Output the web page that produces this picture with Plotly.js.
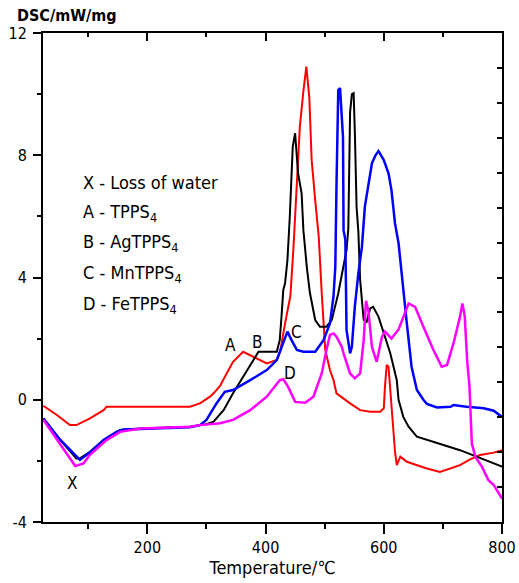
<!DOCTYPE html>
<html>
<head>
<meta charset="utf-8">
<script src="https://cdn.plot.ly/plotly-3.0.1.min.js"></script>
<style>html,body{margin:0;padding:0;background:#fff;}#chart{width:519px;height:583px;}</style>
</head>
<body>
<div id="chart"></div>
<script>
// ---- Data ----
// A - TPPS4 (red)
const tempA = [24, 47, 69, 80, 103, 126, 131, 272, 289, 306, 312, 323, 328, 345, 362, 379, 402, 419, 425, 433, 442, 447, 458, 464, 469, 474, 478, 484, 490, 495, 501, 509, 515, 520, 534, 543, 560, 577, 594, 600, 602, 605, 608, 611, 616, 619, 622, 628, 639, 656, 673, 695, 707, 729, 746, 763, 786, 800];
const dscA  = [-0.2, -0.5, -0.83, -0.83, -0.61, -0.34, -0.23, -0.23, -0.12, 0.1, 0.21, 0.45, 0.64, 1.24, 1.57, 1.41, 1.19, 1.3, 1.6, 2.5, 3.4, 4.9, 8.93, 10.1, 10.9, 9.9, 7.84, 6.53, 5.33, 3.5, 1.63, 0.97, 0.64, 0.21, 0.0, -0.12, -0.34, -0.39, -0.39, -0.28, 0.43, 1.14, 1.08, 0.32, -1.2, -1.7, -2.14, -1.86, -2.03, -2.14, -2.25, -2.36, -2.28, -2.14, -1.95, -1.81, -1.73, -1.65];
// B - AgTPPS4 (black)
const tempB = [24, 52, 80, 86, 103, 126, 148, 154, 188, 272, 289, 300, 312, 329, 345, 362, 379, 388, 419, 424, 427, 430, 433, 437, 441, 444, 446, 450, 455, 461, 464, 470, 475, 484, 492, 503, 512, 523, 534, 537, 540, 541, 543, 546, 549, 551, 554, 557, 560, 566, 571, 577, 582, 591, 600, 611, 622, 625, 633, 642, 656, 673, 701, 729, 757, 786, 800];
const dscB  = [-0.61, -1.3, -1.92, -1.92, -1.7, -1.32, -1.05, -0.99, -0.94, -0.88, -0.83, -0.8, -0.72, -0.34, 0.21, 0.75, 1.3, 1.57, 1.57, 1.95, 2.72, 3.59, 3.81, 4.57, 5.99, 7.19, 8.28, 8.72, 7.41, 6.75, 5.55, 4.3, 3.5, 2.61, 2.39, 2.39, 2.61, 3.48, 4.57, 4.9, 5.6, 7.2, 9.4, 10.0, 10.03, 8.8, 6.3, 5.5, 3.92, 2.61, 2.55, 2.99, 3.04, 2.72, 2.17, 1.52, 0.64, 0.0, -0.56, -0.88, -1.21, -1.32, -1.48, -1.65, -1.87, -2.08, -2.19];
// C - MnTPPS4 (blue)
const tempC = [24, 52, 86, 103, 126, 148, 160, 188, 272, 289, 300, 317, 331, 345, 374, 402, 419, 430, 437, 444, 453, 464, 484, 498, 509, 515, 518, 520, 523, 526, 529, 531, 532, 535, 537, 543, 546, 551, 557, 563, 568, 574, 580, 586, 591, 600, 608, 613, 619, 625, 630, 639, 647, 656, 667, 673, 690, 713, 718, 740, 769, 786, 800];
const dscC  = [-0.61, -1.3, -1.97, -1.72, -1.32, -1.05, -0.97, -0.96, -0.9, -0.83, -0.66, -0.12, 0.26, 0.32, 0.64, 0.97, 1.3, 1.85, 2.23, 1.95, 1.63, 1.57, 1.57, 1.95, 2.5, 3.4, 4.35, 7.0, 10.13, 10.2, 9.26, 8.6, 5.55, 5.23, 2.28, 1.52, 1.73, 3.04, 4.14, 5.0, 6.32, 7.08, 7.74, 8.0, 8.14, 7.84, 7.41, 6.86, 5.77, 5.12, 4.14, 2.5, 1.08, 0.32, 0.0, -0.14, -0.25, -0.23, -0.17, -0.23, -0.28, -0.36, -0.56];
// D - FeTPPS4 (magenta)
const tempD = [24, 50, 78, 92, 103, 131, 154, 188, 272, 289, 323, 345, 374, 402, 424, 430, 438, 450, 467, 481, 495, 503, 509, 515, 520, 529, 532, 543, 551, 560, 566, 570, 574, 580, 588, 597, 602, 613, 625, 642, 653, 667, 684, 698, 707, 718, 729, 733, 737, 741, 745, 749, 755, 766, 777, 786, 800];
const dscD  = [-0.65, -1.4, -2.17, -2.08, -1.8, -1.32, -1.05, -0.94, -0.88, -0.83, -0.77, -0.66, -0.34, 0.1, 0.64, 0.67, 0.43, -0.07, -0.1, 0.1, 0.86, 1.63, 2.12, 2.17, 2.06, 1.73, 1.52, 0.86, 0.7, 0.86, 1.95, 3.24, 2.9, 1.73, 1.24, 2.06, 2.23, 2.0, 2.3, 3.15, 3.04, 2.39, 1.63, 1.08, 1.14, 1.85, 2.72, 3.15, 2.72, 1.3, 0.43, -1.43, -1.87, -2.19, -2.63, -2.79, -3.23];

// Axis ticks
const xTickVals = [200, 400, 600, 800];
const xTickText = ["200", "400", "600", "800"];
const xMinorVals = [100, 300, 500, 700];
const yTickVals = [-4, 0, 4, 8, 12];
const yTickText = ["-4", "0", "4", "8", "12"];
const yMinorVals = [-2, 2, 6, 10];

// Legend text lines and curve labels
const legendLines = ["X - Loss of water", "A - TPPS<sub>4</sub>", "B - AgTPPS<sub>4</sub>", "C - MnTPPS<sub>4</sub>", "D - FeTPPS<sub>4</sub>"];
const curveLabels = ["A", "B", "C", "D", "X"];
const curveLabelT = [340, 386, 453, 442, 72];
const curveLabelV = [1.79, 1.9, 2.22, 0.86, -2.74];

const FONT = '"Liberation Sans Narrow", "Arial Narrow", "DejaVu Sans Condensed", Arial, sans-serif';

const lw = 2;
const traces = [
  {x: tempA, y: dscA, mode: 'lines', line: {color: '#ff0000', width: lw}, name: 'A'},
  {x: tempB, y: dscB, mode: 'lines', line: {color: '#000000', width: lw}, name: 'B'},
  {x: tempC, y: dscC, mode: 'lines', line: {color: '#0000ff', width: lw + 0.5}, name: 'C'},
  {x: tempD, y: dscD, mode: 'lines', line: {color: '#ff00ff', width: lw + 0.5}, name: 'D'},
  {x: [], y: [], xaxis: 'x2', yaxis: 'y2', mode: 'lines', showlegend: false, hoverinfo: 'skip'}
];

const legendY = [0.695, 0.632, 0.570, 0.508, 0.443];
const annotations = [];
legendLines.forEach((t, i) => annotations.push({
  xref: 'paper', yref: 'paper', x: 0.083, y: legendY[i], xanchor: 'left', yanchor: 'middle',
  text: t, showarrow: false, font: {family: FONT, size: 18, color: '#000'}
}));
curveLabels.forEach((t, i) => annotations.push({
  xref: 'x', yref: 'y', x: curveLabelT[i], y: curveLabelV[i], xanchor: 'center', yanchor: 'middle',
  text: t, showarrow: false, font: {family: FONT, size: 17, color: '#000'}
}));
annotations.push({
  xref: 'paper', yref: 'paper', x: -0.061, y: 1.036, xanchor: 'left', yanchor: 'middle',
  text: '<b>DSC/mW/mg</b>', showarrow: false, font: {family: FONT, size: 16, color: '#000'}
});

const layout = {
  width: 519, height: 583,
  margin: {l: 43, r: 17, t: 33, b: 61},
  paper_bgcolor: '#fff', plot_bgcolor: '#fff',
  showlegend: false,
  font: {family: FONT, size: 16, color: '#000'},
  xaxis: {
    range: [23.5, 800], showgrid: false, zeroline: false,
    showline: true, linecolor: '#000', linewidth: 2,
    ticks: 'outside', ticklen: 10, tickwidth: 2, tickcolor: '#000',
    tickmode: 'array', tickvals: xTickVals, ticktext: xTickText,
    minor: {tickmode: 'array', tickvals: xMinorVals, ticks: 'outside', ticklen: 5, tickwidth: 2, tickcolor: '#000', showgrid: false},
    tickfont: {family: FONT, size: 16},
    title: {text: 'Temperature/℃', font: {family: FONT, size: 18}, standoff: 5}
  },
  yaxis: {
    range: [-4, 12], showgrid: false, zeroline: false,
    showline: true, linecolor: '#000', linewidth: 2,
    ticks: 'outside', ticklen: 8, tickwidth: 2, tickcolor: '#000',
    tickmode: 'array', tickvals: yTickVals, ticktext: yTickText,
    minor: {tickmode: 'array', tickvals: yMinorVals, ticks: 'outside', ticklen: 4, tickwidth: 2, tickcolor: '#000', showgrid: false},
    tickfont: {family: FONT, size: 16},
    ticklabelstandoff: 3
  },
  xaxis2: {
    overlaying: 'x', side: 'top', anchor: 'y2', range: [23.5, 800],
    showgrid: false, zeroline: false, showline: true, linecolor: '#000', linewidth: 2,
    ticks: 'inside', ticklen: 8, tickwidth: 2, tickcolor: '#000',
    tickmode: 'array', tickvals: xTickVals, showticklabels: false,
    minor: {tickmode: 'array', tickvals: xMinorVals, ticks: 'inside', ticklen: 4, tickwidth: 2, tickcolor: '#000', showgrid: false}
  },
  yaxis2: {
    overlaying: 'y', side: 'right', anchor: 'x2', range: [0, 14],
    showgrid: false, zeroline: false, showline: true, linecolor: '#000', linewidth: 2,
    ticks: 'inside', ticklen: 5, tickwidth: 2, tickcolor: '#000',
    tickmode: 'linear', tick0: 0, dtick: 1, showticklabels: false
  },
  annotations: annotations
};

Plotly.newPlot('chart', traces, layout, {staticPlot: true, displayModeBar: false});
</script>
</body>
</html>
